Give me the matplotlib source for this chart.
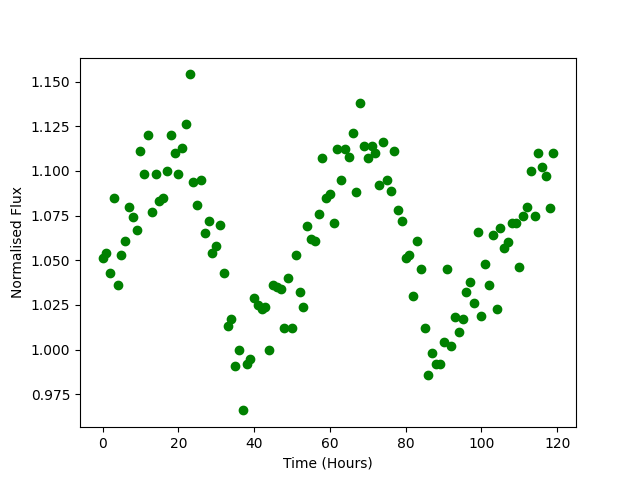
import numpy as np
import matplotlib
matplotlib.use("Agg")
import matplotlib.pyplot as plt

# hourly samples, 0..119
time_hours = np.arange(120)

flux = [
    1.051, 1.054, 1.043, 1.085, 1.036, 1.053, 1.061, 1.080, 1.074, 1.067,
    1.111, 1.098, 1.120, 1.077, 1.098, 1.083, 1.085, 1.100, 1.120, 1.110,
    1.098, 1.113, 1.126, 1.154, 1.094, 1.081, 1.095, 1.065, 1.072, 1.054,
    1.058, 1.070, 1.043, 1.013, 1.017, 0.991, 1.000, 0.966, 0.992, 0.995,
    1.029, 1.025, 1.023, 1.024, 1.000, 1.036, 1.035, 1.034, 1.012, 1.040,
    1.012, 1.053, 1.032, 1.024, 1.069, 1.062, 1.061, 1.076, 1.107, 1.085,
    1.087, 1.071, 1.112, 1.095, 1.112, 1.108, 1.121, 1.088, 1.138, 1.114,
    1.107, 1.114, 1.110, 1.092, 1.116, 1.095, 1.089, 1.111, 1.078, 1.072,
    1.051, 1.053, 1.030, 1.061, 1.045, 1.012, 0.986, 0.998, 0.992, 0.992,
    1.004, 1.045, 1.002, 1.018, 1.010, 1.017, 1.032, 1.038, 1.026, 1.066,
    1.019, 1.048, 1.036, 1.064, 1.023, 1.068, 1.057, 1.060, 1.071, 1.071,
    1.046, 1.075, 1.080, 1.100, 1.075, 1.110, 1.102, 1.097, 1.079, 1.110,
]

plt.figure(figsize=(6.4, 4.8), dpi=100)
plt.plot(time_hours, flux, "o", color="green")
plt.xlabel("Time (Hours)")
plt.ylabel("Normalised Flux")
plt.savefig("out.png", dpi=100)
plt.close()
